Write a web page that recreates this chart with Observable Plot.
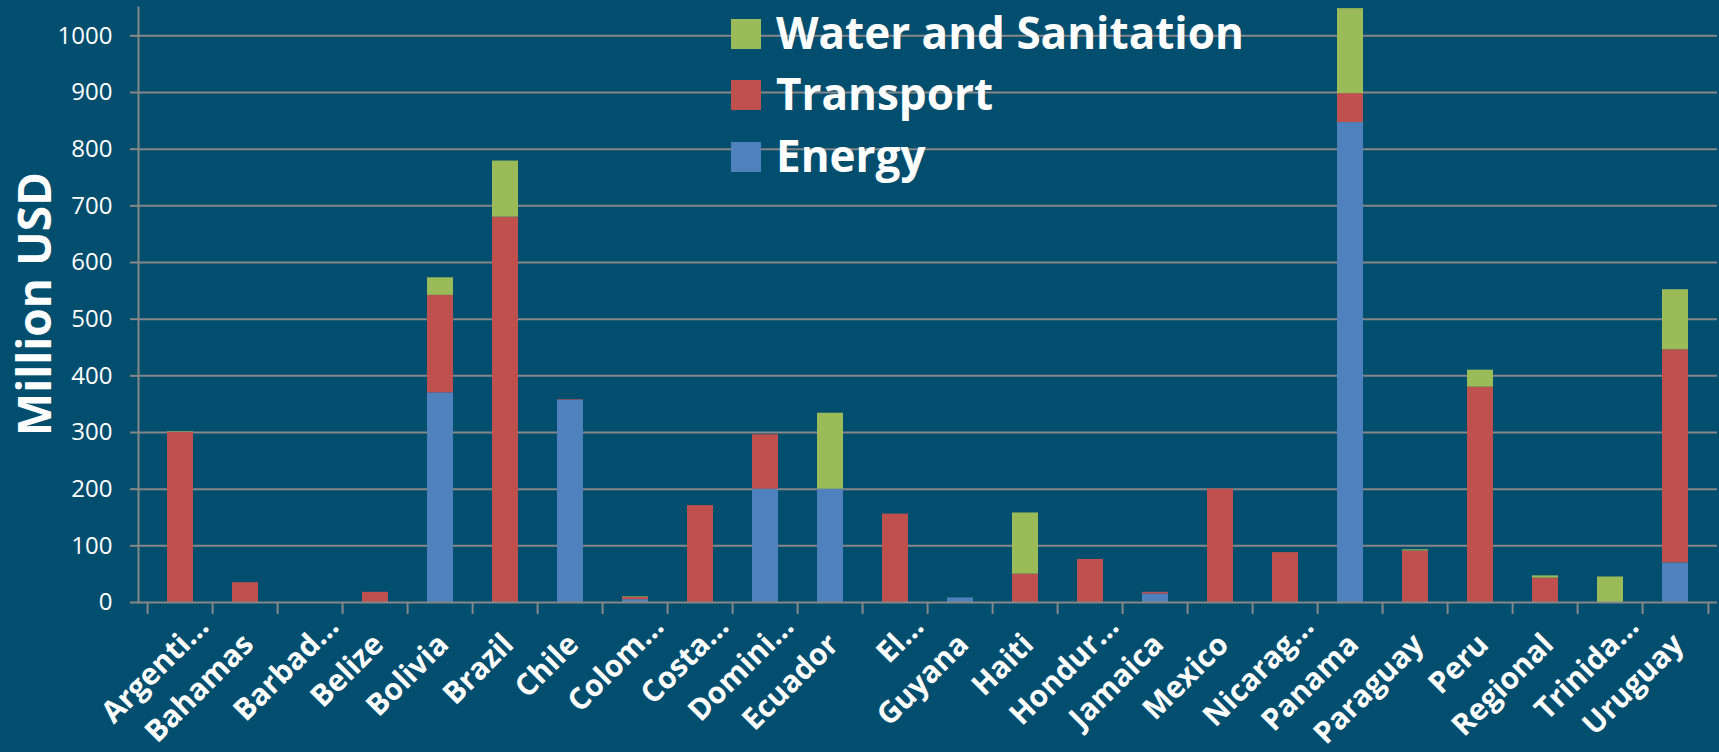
<!DOCTYPE html>
<html>
<head>
<meta charset="utf-8">
<script src="https://cdn.jsdelivr.net/npm/d3@7"></script>
<script src="https://cdn.jsdelivr.net/npm/@observablehq/plot@0.6"></script>
<style>
  html, body { margin: 0; padding: 0; background: #024E6F; }
  #wrap { position: relative; width: 1719px; height: 752px; overflow: hidden; background: #024E6F; font-family: "Open Sans", sans-serif; }
  #ylabel { position: absolute; left: 33px; top: 304px; transform: translate(-50%, -50%) rotate(-90deg); color: #fff; font-weight: 700; font-size: 46px; white-space: nowrap; line-height: 1; }
  .leg-sw { position: absolute; left: 731px; width: 30px; height: 30px; }
  .leg-tx { position: absolute; left: 776px; color: #fff; font-weight: 700; font-size: 44px; line-height: 1; white-space: nowrap; }
</style>
</head>
<body>
<div id="wrap"></div>
<script>
// ---- data ----
const countries = ["Argenti…","Bahamas","Barbad…","Belize","Bolivia","Brazil","Chile","Colom…","Costa…","Domini…","Ecuador","El…","Guyana","Haiti","Hondur…","Jamaica","Mexico","Nicarag…","Panama","Paraguay","Peru","Regional","Trinida…","Uruguay"];
const energy    = [0, 0, 0, 0, 370, 0, 357, 5, 0, 200, 200, 0, 8, 0, 0, 15, 0, 0, 847, 0, 0, 0, 0, 70];
const transport = [300, 35, 0, 18, 172, 680, 1, 4, 171, 96, 0, 156, 0, 50, 76, 3, 200, 88, 51, 91, 380, 43, 0, 376];
const water     = [1, 0, 0, 0, 31, 99, 0, 1, 0, 0, 134, 0, 0, 108, 0, 0, 0, 0, 150, 2, 30, 4, 45, 106];
const sectors = ["Energy", "Transport", "Water and Sanitation"];
const legendOrder = ["Water and Sanitation", "Transport", "Energy"];
const sectorColors = ["#4F81BD", "#C0504D", "#9BBB59"];
const yTicks = [0, 100, 200, 300, 400, 500, 600, 700, 800, 900, 1000];
const yMax = 1050;
const yTitle = "Million USD";

// ---- table ----
const series = [energy, transport, water];
const rows = [];
countries.forEach((c, i) => {
  sectors.forEach((s, k) => rows.push({country: c, sector: s, value: series[k][i]}));
});

// ---- layout ----
const W = 1719, H = 752, mL = 138, mR = 2, mT = 7, mB = 150;
const step = (W - mL - mR) / countries.length;
const gridColor = "#878787";
const fullLabels = countries.filter(c => !c.endsWith("…"));
const cutLabels = countries.filter(c => c.endsWith("…"));

const chart = Plot.plot({
  width: W, height: H,
  marginLeft: mL, marginRight: mR, marginTop: mT, marginBottom: mB,
  style: { background: "transparent", color: "#ffffff", fontFamily: "Open Sans, sans-serif", overflow: "visible" },
  x: { domain: countries, paddingInner: 0.6, paddingOuter: 0.3, label: null },
  y: { domain: [0, yMax], label: null },
  color: { domain: sectors, range: sectorColors },
  marks: [
    Plot.gridY(yTicks.filter(d => d > 0), { stroke: gridColor, strokeOpacity: 1, strokeWidth: 2 }),
    Plot.barY(rows, { x: "country", y: "value", fill: "sector", order: sectors }),
    Plot.ruleY([0], { stroke: gridColor, strokeWidth: 2 }),
    Plot.frame({ anchor: "left", stroke: gridColor, strokeWidth: 2 }),
    Plot.axisY({ ticks: yTicks, tickSize: 8, tickPadding: 18, tickFormat: d => String(d), fontSize: 24, stroke: gridColor, strokeWidth: 2, label: null }),
    Plot.axisX({ ticks: countries, tickSize: 12, text: null, dx: -step / 2, stroke: gridColor, strokeWidth: 2, label: null }),
    Plot.axisX({ ticks: [countries[countries.length - 1]], tickSize: 12, text: null, dx: step / 2, stroke: gridColor, strokeWidth: 2, label: null }),
    Plot.axisX({ ticks: fullLabels, tickSize: 0, tickPadding: 37, dx: 3, tickRotate: -45, fontSize: 30, fontWeight: "bold", label: null }),
    Plot.axisX({ ticks: cutLabels, tickSize: 0, tickPadding: 19, dx: 23, tickRotate: -45, fontSize: 30, fontWeight: "bold", label: null })
  ]
});

const wrap = document.getElementById("wrap");
wrap.appendChild(chart);
chart.style.position = "absolute";
chart.style.left = "0px";
chart.style.top = "0px";

// y title
const yl = document.createElement("div");
yl.id = "ylabel";
yl.textContent = yTitle;
wrap.appendChild(yl);

// legend
const legTop = [19, 80, 142];
const fontPx = 44;
const baseInBox = 0.888 * fontPx;
legendOrder.forEach((s, i) => {
  const sw = document.createElement("div");
  sw.className = "leg-sw";
  sw.style.top = legTop[i] + "px";
  sw.style.background = sectorColors[sectors.indexOf(s)];
  wrap.appendChild(sw);
  const tx = document.createElement("div");
  tx.className = "leg-tx";
  tx.textContent = s;
  tx.style.top = (legTop[i] + 30 - baseInBox) + "px";
  wrap.appendChild(tx);
});
</script>
</body>
</html>
